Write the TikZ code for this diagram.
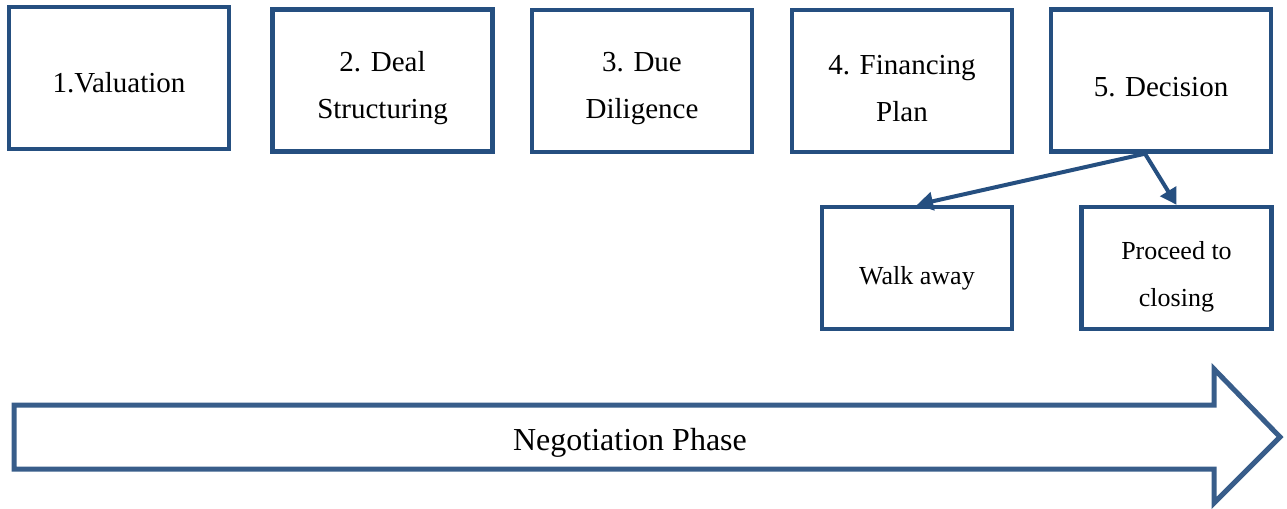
\documentclass[tikz,border=0pt]{standalone}
\usepackage{fontspec}
\setmainfont{Liberation Serif}
\usetikzlibrary{arrows.meta}
\definecolor{boxblue}{RGB}{37,79,128}
\definecolor{phaseblue}{RGB}{56,93,138}
% lower the glyphs of a line, keep its box
\newcommand{\dn}[2][4pt]{\raisebox{-#1}[\height][\depth]{#2}}
\tikzset{
  stepbox/.style={draw=boxblue, line width=2.2pt, shape=rectangle, align=center,
    minimum width=110pt, minimum height=71pt, font=\fontsize{14.5}{23.5}\selectfont},
  outbox/.style={stepbox, minimum width=95pt, minimum height=61pt,
    font=\fontsize{13}{23.5}\selectfont},
  link/.style={draw=boxblue, line width=2pt, -{Triangle[length=8pt,width=9pt]}}
}
\begin{document}
\begin{tikzpicture}[x=0.5pt, y=-0.5pt]
\useasboundingbox (0,0) rectangle (1287,509);
\draw (119,78) node[stepbox] (val) {\dn[2.5pt]{1.Valuation}};
\draw (382.5,80.5) node[stepbox] (deal) {\dn{2. Deal}\\\dn{Structuring}};
\draw (642,81) node[stepbox] (due) {\dn{3. Due}\\\dn{Diligence}};
\draw (902,81) node[stepbox] (fin) {\dn{4. Financing}\\\dn{Plan}};
\draw (1161,80.5) node[stepbox] (dec) {\dn[3.5pt]{5. Decision}};
\draw (917,268) node[outbox] (walk) {\dn[5pt]{Walk away}};
\draw (1176.5,268) node[outbox] (proc) {\dn[4.5pt]{Proceed to}\\\dn[4.5pt]{closing}};
\draw[link] ([xshift=-8pt]dec.south) -- (walk.north);
\draw[link] ([xshift=-8pt]dec.south) -- (proc.north);
% phase arrow
\draw[draw=phaseblue, line width=2.5pt] (14,405) -- (1214,405) -- (1214,369) -- (1280,437)
  -- (1214,503) -- (1214,469) -- (14,469) -- cycle;
\draw (630,443) node[font=\fontsize{16}{19}\selectfont] (phase) {Negotiation Phase};
\end{tikzpicture}
\end{document}
